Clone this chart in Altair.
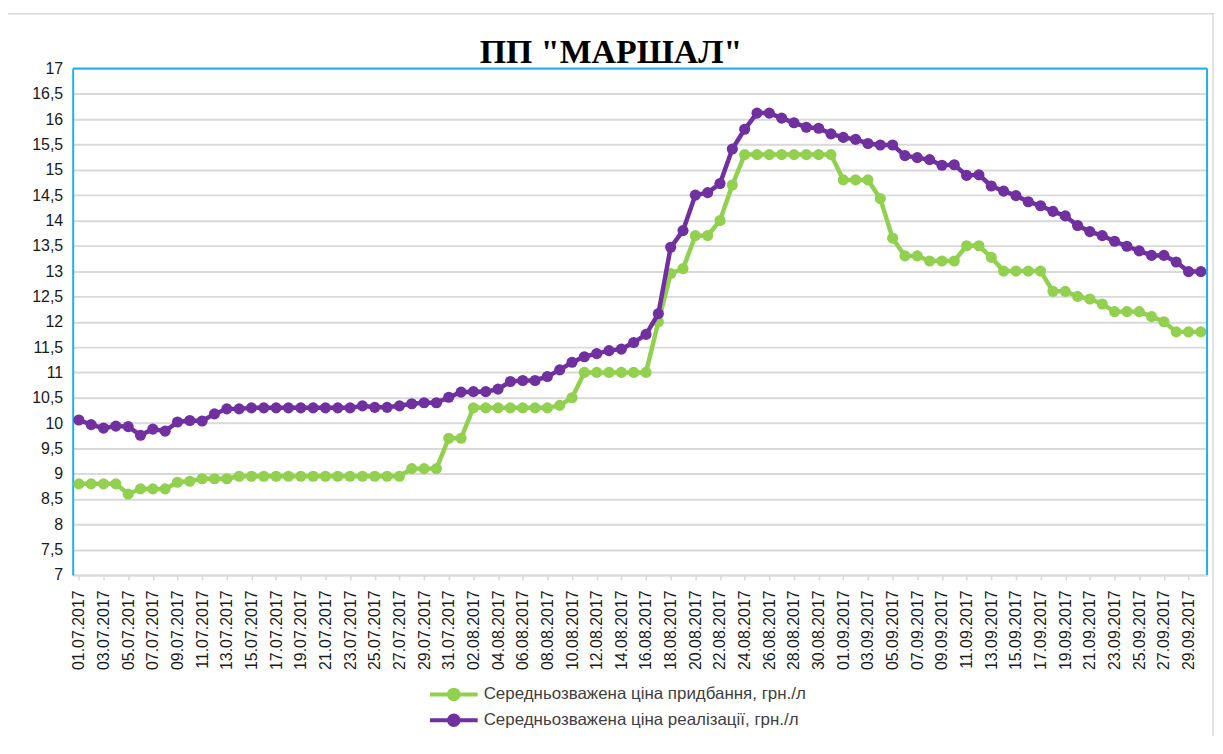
import altair as alt
import pandas as pd

# Category labels (days of July-September 2017)
dates = ([f"{d:02d}.07.2017" for d in range(1, 32)]
         + [f"{d:02d}.08.2017" for d in range(1, 32)]
         + [f"{d:02d}.09.2017" for d in range(1, 31)])

s_buy = "Середньозважена ціна придбання, грн./л"
s_sell = "Середньозважена ціна реалізації, грн./л"
chart_title = 'ПП "МАРШАЛ"'

purchase = [
    # July
    8.8, 8.8, 8.8, 8.8, 8.6, 8.7, 8.7, 8.7, 8.83, 8.85,
    8.9, 8.9, 8.9, 8.95, 8.95, 8.95, 8.95, 8.95, 8.95, 8.95,
    8.95, 8.95, 8.95, 8.95, 8.95, 8.95, 8.95, 9.1, 9.1, 9.1, 9.7,
    # August
    9.7, 10.3, 10.3, 10.3, 10.3, 10.3, 10.3, 10.3, 10.35, 10.5,
    11.0, 11.0, 11.0, 11.0, 11.0, 11.0, 12.0, 12.95, 13.05, 13.7,
    13.7, 14.0, 14.7, 15.3, 15.3, 15.3, 15.3, 15.3, 15.3, 15.3, 15.3,
    # September
    14.8, 14.8, 14.8, 14.43, 13.65, 13.3, 13.3, 13.2, 13.2, 13.2,
    13.5, 13.5, 13.27, 13.0, 13.0, 13.0, 13.0, 12.6, 12.6, 12.5,
    12.45, 12.35, 12.2, 12.2, 12.2, 12.1, 12.0, 11.8, 11.8, 11.8,
]

sale = [
    # July
    10.06, 9.97, 9.9, 9.94, 9.93, 9.76, 9.88, 9.84, 10.02, 10.05,
    10.04, 10.18, 10.28, 10.28, 10.3, 10.3, 10.3, 10.3, 10.3, 10.3,
    10.3, 10.3, 10.3, 10.34, 10.31, 10.31, 10.34, 10.38, 10.4, 10.4, 10.51,
    # August
    10.61, 10.62, 10.62, 10.67, 10.82, 10.84, 10.84, 10.92, 11.05, 11.2,
    11.31, 11.37, 11.43, 11.46, 11.59, 11.75, 12.16, 13.47, 13.8, 14.5,
    14.55, 14.73, 15.41, 15.8, 16.12, 16.12, 16.02, 15.93, 15.84, 15.82, 15.71,
    # September
    15.64, 15.6, 15.52, 15.49, 15.49, 15.28, 15.24, 15.2, 15.09, 15.1,
    14.89, 14.9, 14.68, 14.58, 14.49, 14.37, 14.29, 14.18, 14.09, 13.9,
    13.78, 13.7, 13.59, 13.49, 13.4, 13.31, 13.31, 13.18, 12.99, 12.99,
]

y_ticks = [7 + 0.5 * i for i in range(21)]

GREEN = "#92d050"
PURPLE = "#7030a0"
BLUE = "#1fb1ec"
GRID = "#d9d9d9"

df = pd.DataFrame({
    "date": dates * 2,
    "series": [s_buy] * len(dates) + [s_sell] * len(dates),
    "value": purchase + sale,
})

W, H = 1140, 509

x_enc = alt.X(
    "date:O",
    scale=alt.Scale(type="point", padding=0.5, domain=dates),
    axis=alt.Axis(
        values=dates[::2], labelAngle=270, labelFont="Liberation Sans",
        labelFontSize=16, labelColor="#1a1a1a", labelPadding=10,
        tickColor=GRID, tickSize=5, tickWidth=1.5,
        domainColor=GRID, domainWidth=2, grid=False, labelOverlap=False,
    ),
    title=None,
)
y_enc = alt.Y(
    "value:Q",
    scale=alt.Scale(domain=[7, 17], nice=False, zero=False),
    axis=alt.Axis(
        values=y_ticks, format="~f",
        labelExpr="replace(datum.label, '.', ',')",
        labelFont="Liberation Sans", labelFontSize=16, labelColor="#1a1a1a",
        labelPadding=10, ticks=False, domainColor=BLUE, domainWidth=2,
        grid=True, gridColor=GRID, gridWidth=2,
    ),
    title=None,
)

# line-with-dot legend glyph (unit = 8 px at symbolSize 256)
legend_path = ("M-3,0L3,0"
               "M-0.6,0A0.6,0.6,0,1,1,0.6,0A0.6,0.6,0,1,1,-0.6,0"
               "M-0.3,0A0.3,0.3,0,1,1,0.3,0A0.3,0.3,0,1,1,-0.3,0")

color_enc = alt.Color(
    "series:N",
    scale=alt.Scale(domain=[s_buy, s_sell], range=[GREEN, PURPLE]),
    legend=alt.Legend(
        title=None, orient="none", legendX=373, legendY=619,
        direction="vertical", padding=0, labelFont="Liberation Sans",
        labelFontSize=17, labelColor="#404040", labelLimit=700,
        symbolType=legend_path, symbolSize=256, symbolStrokeWidth=4,
        rowPadding=0, labelOffset=20,
    ),
)

base = alt.Chart(df)
layers = []
for s in [s_buy, s_sell]:
    sub = base.transform_filter(alt.datum.series == s)
    layers.append(sub.mark_line(strokeWidth=4.5).encode(x=x_enc, y=y_enc, color=color_enc))
    layers.append(sub.mark_circle(size=125, opacity=1).encode(x=x_enc, y=y_enc, color=color_enc))

one = pd.DataFrame({"k": [0]})
frame = alt.Chart(one).mark_rect(fillOpacity=0, stroke=GRID, strokeWidth=1.5).encode(
    x=alt.value(-68), x2=alt.value(1146), y=alt.value(-55), y2=alt.value(720))
top_rule = alt.Chart(one).mark_rule(color=BLUE, strokeWidth=2).encode(
    x=alt.value(0), x2=alt.value(W), y=alt.value(0))
right_rule = alt.Chart(one).mark_rule(color=BLUE, strokeWidth=2).encode(
    x=alt.value(W), y=alt.value(0), y2=alt.value(H))
title_text = alt.Chart(one).mark_text(
    font="Liberation Serif", fontSize=34, fontWeight="bold", color="#000000",
    align="center", baseline="alphabetic",
).encode(x=alt.value(541), y=alt.value(-6), text=alt.value(chart_title))

chart = alt.layer(frame, *layers, top_rule, right_rule, title_text).properties(
    width=W, height=H,
    autosize=alt.AutoSizeParams(type="none"),
    padding={"left": 65, "top": 59, "right": 8, "bottom": 160},
).configure_view(strokeWidth=0)

chart.save("out.html", embed_options={"renderer": "svg", "actions": False})
